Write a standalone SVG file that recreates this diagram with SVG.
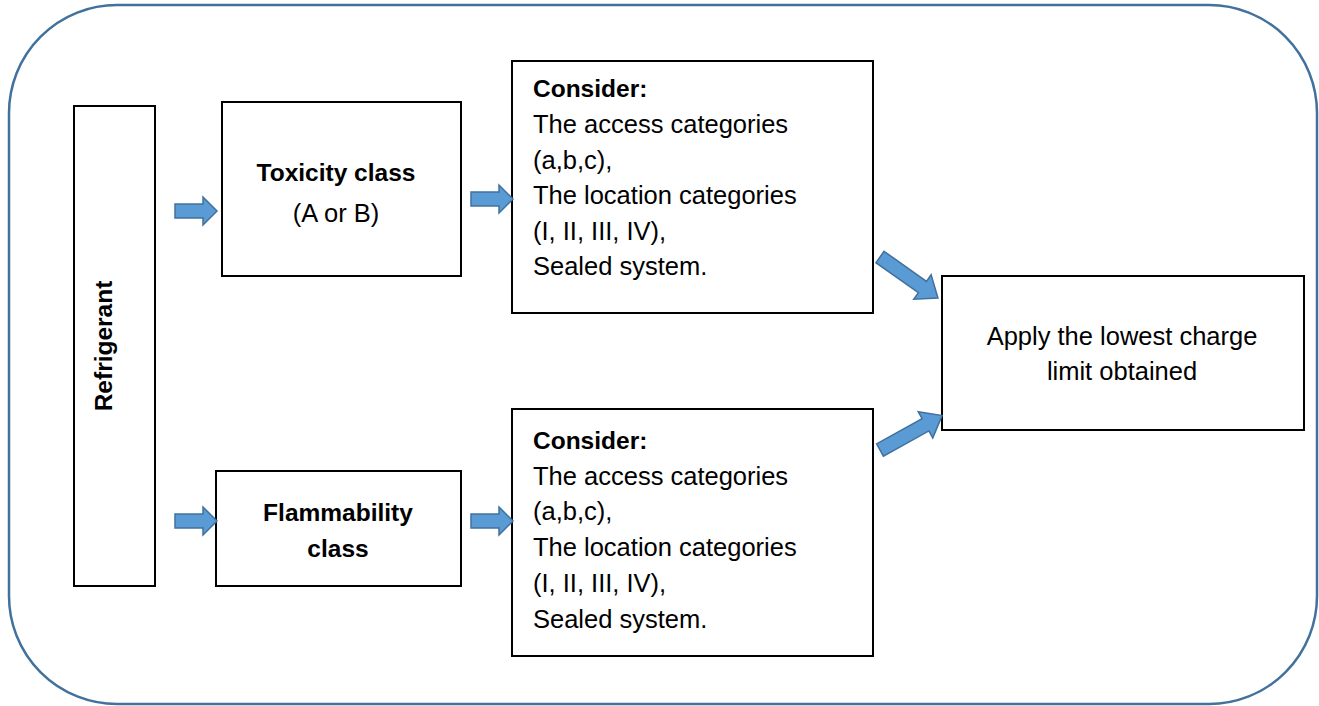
<svg xmlns="http://www.w3.org/2000/svg" width="1319" height="706" viewBox="0 0 1319 706">
<style>
.box{fill:#fff;stroke:#000;stroke-width:2}
.t{font-family:"Liberation Sans",Arial,sans-serif;font-size:25.5px;fill:#000}
.b{font-weight:bold;font-size:24.5px}
.arr{fill:#5B9BD5;stroke:#41719C;stroke-width:1.5;stroke-linejoin:miter}
</style>
<defs>
<path id="ah" d="M0,-7 L28,-7 L28,-14 L42,0 L28,14 L28,7 L0,7 Z"/>
<path id="ad" d="M0,-7 L52,-7 L52,-15 L71,0 L52,15 L52,7 L0,7 Z"/>
</defs>
<rect x="9" y="5" width="1308" height="699" rx="108" ry="108" fill="#fff" stroke="#41719C" stroke-width="2.5"/>
<g id="refrigerant">
<rect class="box" x="74" y="106" width="81" height="480"/>
<text class="t b" transform="translate(112,346) rotate(-90)" text-anchor="middle">Refrigerant</text>
</g>
<g id="toxicity">
<rect class="box" x="222" y="102" width="239" height="174"/>
<text class="t b" x="336" y="181" text-anchor="middle">Toxicity class</text>
<text class="t" x="336" y="222" text-anchor="middle">(A or B)</text>
</g>
<g id="flammability">
<rect class="box" x="216" y="471" width="245" height="115"/>
<text class="t b" x="338" y="521" text-anchor="middle">Flammability</text>
<text class="t b" x="338" y="557" text-anchor="middle">class</text>
</g>
<g id="consider1">
<rect class="box" x="512" y="61" width="361" height="252"/>
<text class="t" x="533" y="97"><tspan class="b">Consider:</tspan><tspan x="533" dy="36">The access categories</tspan><tspan x="533" dy="35.5">(a,b,c),</tspan><tspan x="533" dy="35.5">The location categories</tspan><tspan x="533" dy="35.5">(I, II, III, IV),</tspan><tspan x="533" dy="35.5">Sealed system.</tspan></text>
</g>
<g id="consider2">
<rect class="box" x="512" y="409" width="361" height="247"/>
<text class="t" x="533" y="449"><tspan class="b">Consider:</tspan><tspan x="533" dy="35.5">The access categories</tspan><tspan x="533" dy="35.5">(a,b,c),</tspan><tspan x="533" dy="36">The location categories</tspan><tspan x="533" dy="36">(I, II, III, IV),</tspan><tspan x="533" dy="35.5">Sealed system.</tspan></text>
</g>
<g id="apply">
<rect class="box" x="942" y="276" width="362" height="154"/>
<text class="t" x="1122" y="345" text-anchor="middle">Apply the lowest charge</text>
<text class="t" x="1122" y="380" text-anchor="middle">limit obtained</text>
</g>
<g id="connectors">
<use href="#ah" class="arr" transform="translate(175,211)"/>
<use href="#ah" class="arr" transform="translate(471,199)"/>
<use href="#ah" class="arr" transform="translate(175,521)"/>
<use href="#ah" class="arr" transform="translate(471,521)"/>
<use href="#ad" class="arr" transform="translate(880,257) rotate(35.3)"/>
<use href="#ad" class="arr" transform="translate(880,450) rotate(-29)"/>
</g>
</svg>
